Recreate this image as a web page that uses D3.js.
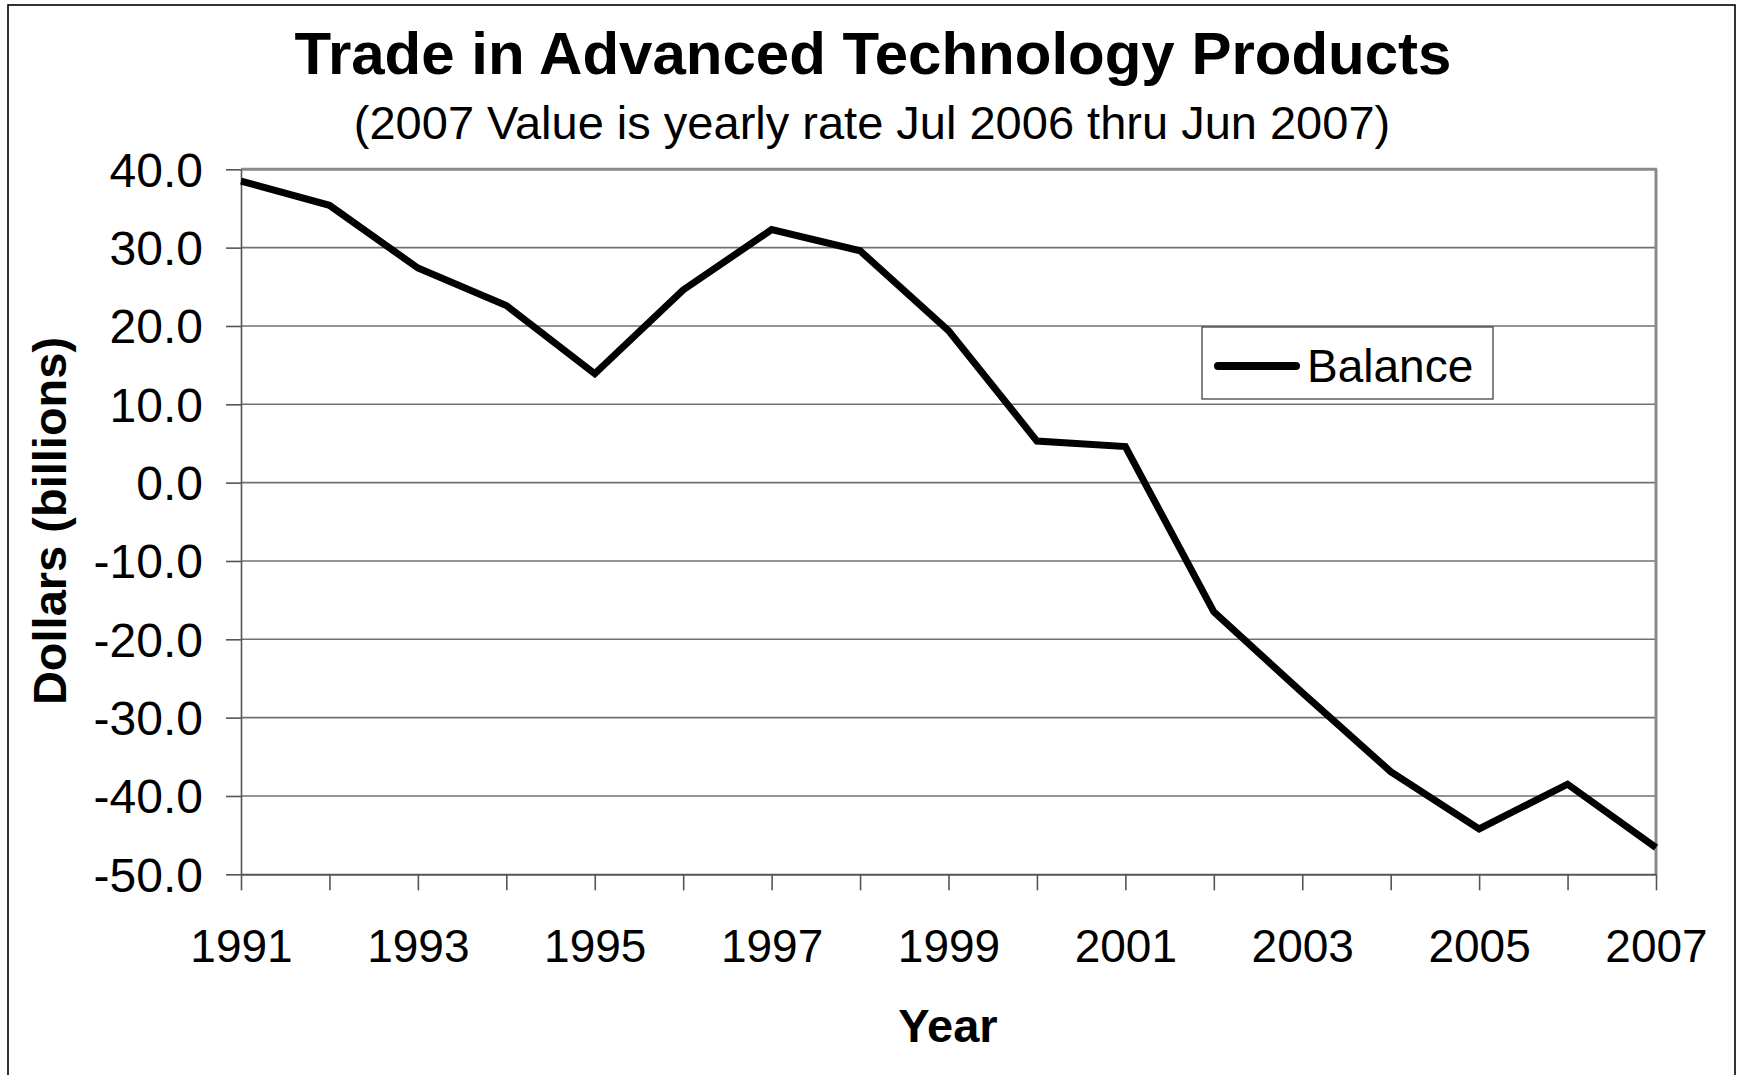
<!DOCTYPE html>
<html>
<head>
<meta charset="utf-8">
<script src="https://cdn.jsdelivr.net/npm/d3@7"></script>
<style>
  html, body { margin: 0; padding: 0; background: #fff; }
  svg { display: block; }
  text { font-family: "Liberation Sans", Arial, sans-serif; fill: #000; }
</style>
</head>
<body>
<svg id="chart" width="1738" height="1075"></svg>
<script>
const years = [1991,1992,1993,1994,1995,1996,1997,1998,1999,2000,2001,2002,2003,2004,2005,2006,2007];
const balance = [38.5,35.4,27.4,22.6,13.9,24.6,32.3,29.6,19.4,5.3,4.6,-16.5,-26.8,-36.9,-44.2,-38.5,-46.6];
const yTicks = [40,30,20,10,0,-10,-20,-30,-40,-50];
const xLabelYears = [1991,1993,1995,1997,1999,2001,2003,2005,2007];
const seriesName = "Balance";
const titleText = "Trade in Advanced Technology Products";
const subtitleText = "(2007 Value is yearly rate Jul 2006 thru Jun 2007)";
const xTitle = "Year";
const yTitle = "Dollars (billions)";

const svg = d3.select("#chart");
const L = 241, R = 1656, T = 169.3, B = 874.3;

const x = d3.scaleLinear().domain([1991, 2007]).range([L, R]);
const y = d3.scaleLinear().domain([-50, 40]).range([B, T]);

// outer border
svg.append("rect").attr("x", 8).attr("y", 5).attr("width", 1727).attr("height", 1100)
  .attr("fill", "none").attr("stroke", "#000").attr("stroke-width", 1.6);

// gridlines
svg.append("g").selectAll("line").data(yTicks.filter(d => d !== -50 && d !== 40)).join("line")
  .attr("x1", L).attr("x2", R).attr("y1", d => y(d)).attr("y2", d => y(d))
  .attr("stroke", "#707070").attr("stroke-width", 1.6);

// top and right frame (thicker gray)
svg.append("line").attr("x1", L).attr("x2", R + 1).attr("y1", T).attr("y2", T)
  .attr("stroke", "#8a8a8a").attr("stroke-width", 3);
svg.append("line").attr("x1", R).attr("x2", R).attr("y1", T).attr("y2", B)
  .attr("stroke", "#8a8a8a").attr("stroke-width", 3);

// Y axis
const yAxis = d3.axisLeft(y).tickValues(yTicks).tickSize(15).tickSizeOuter(0)
  .tickFormat(d => d3.format(".1f")(d).replace("−", "-"));
const gy = svg.append("g").attr("transform", `translate(${L},0)`).call(yAxis);
gy.select(".domain").attr("stroke", "#555").attr("stroke-width", 1.6);
gy.selectAll(".tick line").attr("stroke", "#555").attr("stroke-width", 1.6);
gy.selectAll(".tick text").attr("x", -38).attr("dy", "0.35em")
  .style("font-size", "48px").style("font-family", '"Liberation Sans", Arial, sans-serif').attr("fill", "#000");

// X axis
const xAxis = d3.axisBottom(x).tickValues(years).tickSize(16).tickSizeOuter(0)
  .tickFormat(d => xLabelYears.includes(d) ? String(d) : "");
const gx = svg.append("g").attr("transform", `translate(0,${B})`).call(xAxis);
gx.select(".domain").attr("stroke", "#555").attr("stroke-width", 2);
gx.selectAll(".tick line").attr("stroke", "#555").attr("stroke-width", 1.6);
gx.selectAll(".tick text").attr("y", 88).attr("dy", 0)
  .style("font-size", "46px").style("font-family", '"Liberation Sans", Arial, sans-serif').attr("fill", "#000");

// data line
const line = d3.line().x((d, i) => x(years[i])).y(d => y(d));
svg.append("path").datum(balance).attr("d", line)
  .attr("fill", "none").attr("stroke", "#000").attr("stroke-width", 7)
  .attr("stroke-linejoin", "miter");

// titles
svg.append("text").attr("x", 873).attr("y", 74).attr("text-anchor", "middle")
  .style("font-size", "60px").style("font-weight", "bold").text(titleText);
svg.append("text").attr("x", 872).attr("y", 139).attr("text-anchor", "middle")
  .style("font-size", "47px").text(subtitleText);
svg.append("text").attr("x", 948).attr("y", 1042).attr("text-anchor", "middle")
  .style("font-size", "47px").style("font-weight", "bold").text(xTitle);
svg.append("text").attr("transform", "translate(66,521) rotate(-90)").attr("text-anchor", "middle")
  .style("font-size", "47px").style("font-weight", "bold").text(yTitle);

// legend
const lg = svg.append("g");
lg.append("rect").attr("x", 1202).attr("y", 327).attr("width", 291).attr("height", 72)
  .attr("fill", "#fff").attr("stroke", "#444").attr("stroke-width", 1.3);
lg.append("line").attr("x1", 1218).attr("x2", 1296).attr("y1", 366).attr("y2", 366)
  .attr("stroke", "#000").attr("stroke-width", 8).attr("stroke-linecap", "round");
lg.append("text").attr("x", 1307).attr("y", 382)
  .style("font-size", "46px").text(seriesName);
</script>
</body>
</html>
